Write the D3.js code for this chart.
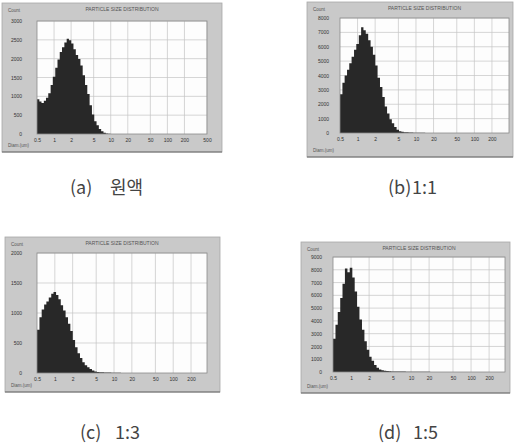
<!DOCTYPE html>
<html>
<head>
<meta charset="utf-8">
<script src="https://cdn.jsdelivr.net/npm/d3@7"></script>
<style>
  body { margin: 0; background: #fff; }
  svg { display: block; }
  .tick text { font-family: Arial, "Liberation Sans", sans-serif; }
</style>
</head>
<body>
<svg id="chart" width="520" height="447"></svg>
<script>
// particle size bins (um), lower edges; bar i spans binEdges[i]..binEdges[i+1]
const binEdges = [0.5, 0.55, 0.6, 0.66, 0.72, 0.79, 0.87, 0.95, 1.05, 1.15,
  1.26, 1.38, 1.52, 1.67, 1.83, 2.01, 2.2, 2.42, 2.66, 2.92,
  3.2, 3.52, 3.86, 4.24, 4.66, 5.12, 5.62, 6.17, 6.78, 7.45,
  8.18, 8.98, 9.87, 10.8, 11.9, 13.1, 14.4, 15.8, 17.3, 19,
  20.9, 23, 25.2, 27.7, 30.4];

// counts
const countsA = [920, 860, 820, 880, 960, 1080, 1300, 1520, 1760, 1980,
  2180, 2300, 2430, 2530, 2490, 2400, 2250, 2100, 1990, 1820,
  1560, 1300, 1060, 760, 520, 340, 230, 130, 70, 35, 15, 5];
const countsB = [2700, 3500, 4000, 4400, 4850, 5300, 5800, 6200, 6800, 7350,
  7150, 6900, 6450, 6000, 5450, 4700, 3850, 3200, 2500, 1850,
  1350, 950, 680, 420, 230, 120, 80, 60, 50, 40,
  30, 25, 20, 15, 12, 10, 8, 5, 4, 3, 2];
const countsC = [720, 930, 1060, 1140, 1190, 1260, 1320, 1350, 1300, 1230,
  1130, 1040, 930, 820, 700, 550, 430, 330, 250, 180,
  130, 95, 65, 40, 25, 18, 14, 11, 9, 8,
  7, 6, 5, 4, 3, 2, 2, 1];
const countsD = [2600, 3700, 4700, 5800, 6900, 8100, 7800, 8150, 7400, 6300,
  5100, 4100, 3300, 2400, 1750, 1200, 880, 550, 330, 200,
  130, 90, 70, 55, 45, 40, 38, 35, 32, 30,
  28, 26, 24, 22, 20, 18, 16, 14, 12, 10, 8, 6, 4, 2];

const yTicksA = [0, 500, 1000, 1500, 2000, 2500, 3000];
const yTicksB = [0, 1000, 2000, 3000, 4000, 5000, 6000, 7000, 8000];
const yTicksC = [0, 500, 1000, 1500, 2000];
const yTicksD = [0, 1000, 2000, 3000, 4000, 5000, 6000, 7000, 8000, 9000];
const xTicks = [0.5, 1, 2, 5, 10, 20, 50, 100, 200, 500];

const plotTitle = 'PARTICLE SIZE DISTRIBUTION';
const yName = 'Count';
const xName = 'Diam.(um)';
const captionTags = ['(a)', '(b)', '(c)', '(d)'];
const captionTexts = ['원액', '1:1', '1:3', '1:5'];

const panels = [
  { counts: countsA, yTicks: yTicksA, xMax: 500, frame: [2, 3, 220, 149], l: 37, t: 21, r: 207, b: 134, pad: 15,
    cap: [70, 194, 110] },
  { counts: countsB, yTicks: yTicksB, xMax: 392, frame: [307, 2, 206, 155], l: 340, t: 18, r: 509, b: 133, pad: 11,
    cap: [388, 194, 412] },
  { counts: countsC, yTicks: yTicksC, xMax: 372, frame: [5, 237, 215, 155], l: 37, t: 253, r: 207, b: 373, pad: 15,
    cap: [80, 439, 115] },
  { counts: countsD, yTicks: yTicksD, xMax: 368, frame: [301, 242, 209, 151], l: 333, t: 257, r: 505, b: 372, pad: 11,
    cap: [378, 439, 413] }
];

const svg = d3.select('#chart');

panels.forEach((p, k) => {
  const [fx, fy, fw, fh] = p.frame;
  const g = svg.append('g');

  g.append('rect')
    .attr('x', fx).attr('y', fy).attr('width', fw).attr('height', fh)
    .attr('fill', '#c9c9c9')
    .attr('stroke', '#a8a8a8').attr('stroke-width', 0.8);
  // darker bottom edge of the window
  g.append('line')
    .attr('x1', fx).attr('x2', fx + fw).attr('y1', fy + fh).attr('y2', fy + fh)
    .attr('stroke', '#6a6a6a').attr('stroke-width', 1.2);

  g.append('rect')
    .attr('x', p.l).attr('y', p.t).attr('width', p.r - p.l).attr('height', p.b - p.t)
    .attr('fill', '#fdfdfd');

  const x = d3.scaleLog().domain([0.5, p.xMax]).range([p.l, p.r]);
  const y = d3.scaleLinear().domain([0, d3.max(p.yTicks)]).range([p.b, p.t]);
  const ticksIn = xTicks.filter(v => v <= p.xMax);

  // grid
  g.append('g').selectAll('line')
    .data(ticksIn.slice(1))
    .enter().append('line')
    .attr('x1', d => x(d)).attr('x2', d => x(d))
    .attr('y1', p.t).attr('y2', p.b)
    .attr('stroke', '#c4c4c4').attr('stroke-width', 0.7);
  g.append('g').selectAll('line')
    .data(p.yTicks.slice(1))
    .enter().append('line')
    .attr('x1', p.l).attr('x2', p.r)
    .attr('y1', d => y(d)).attr('y2', d => y(d))
    .attr('stroke', '#c4c4c4').attr('stroke-width', 0.7);

  // histogram as one stepped area so neighbouring bins don't show seams
  const steps = p.counts.map((c, i) => ({ size: binEdges[i], count: c }));
  steps.push({ size: binEdges[p.counts.length], count: 0 });
  const area = d3.area()
    .x(d => x(d.size))
    .y0(p.b)
    .y1(d => y(d.count))
    .curve(d3.curveStepAfter);
  g.append('path')
    .datum(steps)
    .attr('d', area)
    .attr('fill', '#282828');

  g.append('rect')
    .attr('x', p.l).attr('y', p.t).attr('width', p.r - p.l).attr('height', p.b - p.t)
    .attr('fill', 'none')
    .attr('stroke', '#8a8a8a').attr('stroke-width', 0.8);

  const xAxis = g.append('g')
    .attr('transform', `translate(0,${p.b})`)
    .call(d3.axisBottom(x).tickValues(ticksIn).tickFormat(d => d).tickSize(0).tickPadding(4));
  xAxis.select('.domain').remove();
  xAxis.selectAll('text').attr('font-size', 5).attr('fill', '#333');

  const yAxis = g.append('g')
    .attr('transform', `translate(${p.l},0)`)
    .call(d3.axisLeft(y).tickValues(p.yTicks).tickFormat(d => d).tickSize(0).tickPadding(p.pad));
  yAxis.select('.domain').remove();
  yAxis.selectAll('text').attr('font-size', 5).attr('fill', '#333');

  g.append('text')
    .attr('x', (p.l + p.r) / 2).attr('y', fy + 8)
    .attr('text-anchor', 'middle')
    .attr('font-family', 'Arial, sans-serif')
    .attr('font-size', 5).attr('fill', '#555')
    .text(plotTitle);
  g.append('text')
    .attr('x', fx + 6).attr('y', fy + 9)
    .attr('font-family', 'Arial, sans-serif')
    .attr('font-size', 4.5).attr('fill', '#555')
    .text(yName);
  g.append('text')
    .attr('x', fx + 6).attr('y', fy + fh - 5)
    .attr('font-family', 'Arial, sans-serif')
    .attr('font-size', 4.5).attr('fill', '#555')
    .text(xName);

  // caption below the window
  const cap = svg.append('text')
    .attr('y', p.cap[1])
    .attr('font-family', '"Noto Sans CJK KR", "Noto Sans", sans-serif')
    .attr('font-size', 18).attr('fill', '#444');
  cap.append('tspan').attr('x', p.cap[0]).text(captionTags[k]);
  cap.append('tspan').attr('x', p.cap[2]).text(captionTexts[k]);
});
</script>
</body>
</html>
